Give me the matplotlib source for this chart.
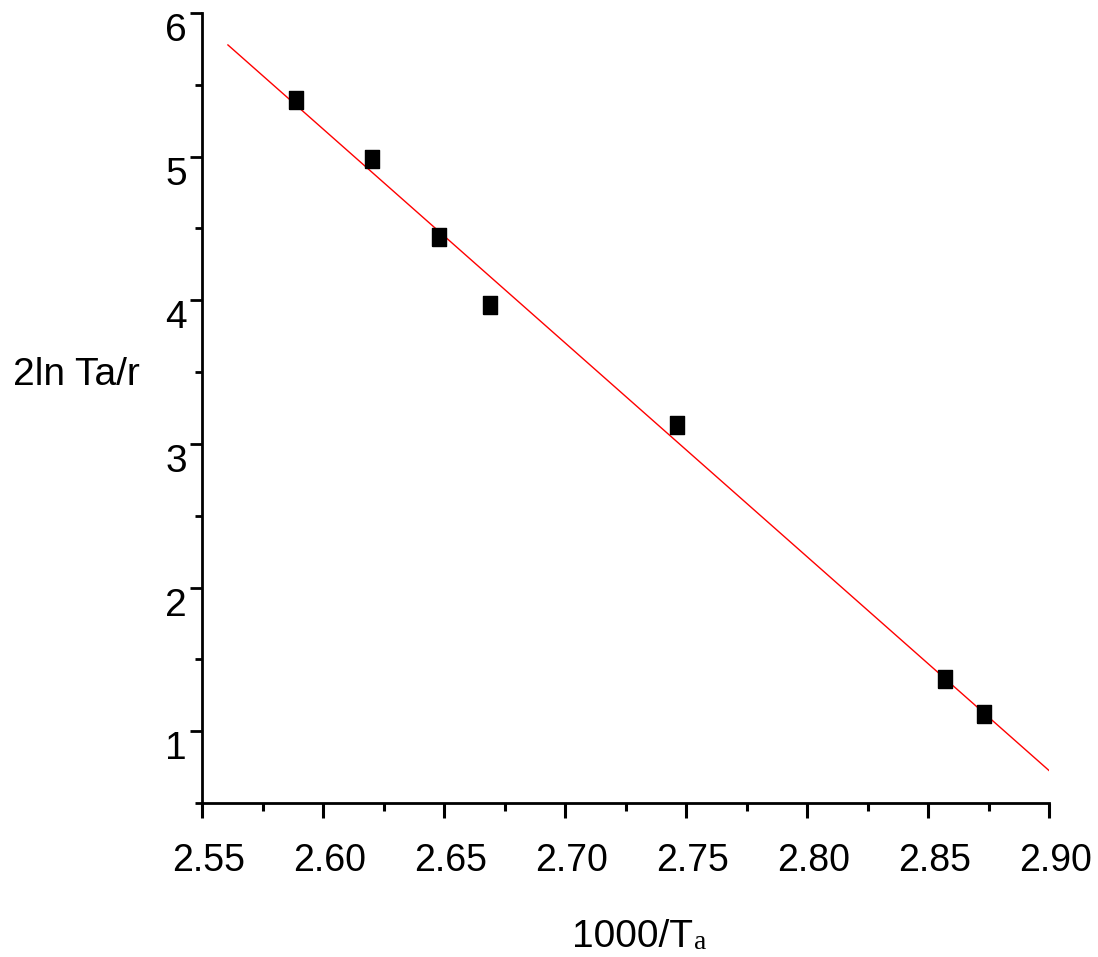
import numpy as np
import matplotlib.pyplot as plt
import matplotlib.transforms as mtrans
from matplotlib.ticker import MultipleLocator

# data
inv_T = [2.5888, 2.6201, 2.6481, 2.6690, 2.7463, 2.8572, 2.8731]
ln_val = [5.395, 4.986, 4.440, 3.967, 3.134, 1.360, 1.117]
fit_range = [2.5607, 2.90]
xticks = [2.55, 2.60, 2.65, 2.70, 2.75, 2.80, 2.85, 2.90]
xtick_labels = ['2.55', '2.60', '2.65', '2.70', '2.75', '2.80', '2.85', '2.90']

plt.rcParams['font.family'] = ['Liberation Sans', 'DejaVu Sans']

fig = plt.figure(figsize=(10.98, 9.57), dpi=100)
ax = fig.add_axes([0.184, 0.1609, 0.7714, 0.8255])

# least squares line through the points
k, b = np.polyfit(inv_T, ln_val, 1)
xf = np.array(fit_range)
ax.plot(xf, k * xf + b, color='red', lw=1.0, zorder=2)

# slightly tall square markers
rect = [(-0.8, -1), (0.8, -1), (0.8, 1), (-0.8, 1), (-0.8, -1)]
ax.plot(inv_T, ln_val, ls='none', marker=rect, markersize=13,
        color='black', zorder=3)

ax.set_xlim(2.55, 2.90)
ax.set_ylim(0.5, 6)
ax.set_xticks(xticks)
ax.set_xticklabels(xtick_labels)
ax.xaxis.set_minor_locator(MultipleLocator(0.025))
ax.yaxis.set_major_locator(MultipleLocator(1))
ax.yaxis.set_minor_locator(MultipleLocator(0.5))

ax.spines['top'].set_visible(False)
ax.spines['right'].set_visible(False)
ax.spines['left'].set_linewidth(2)
ax.spines['bottom'].set_linewidth(2)

ax.tick_params(axis='x', which='major', length=11, width=2.2, labelsize=27, pad=18)
ax.tick_params(axis='x', which='minor', length=6, width=2.2)
ax.tick_params(axis='y', which='major', length=9, width=2, labelsize=28, pad=2)
ax.tick_params(axis='y', which='minor', length=5, width=2)

# labels sit a bit right of / below their ticks in the original
shift = mtrans.ScaledTranslation(0.07, 0, fig.dpi_scale_trans)
for lab in ax.get_xticklabels():
    lab.set_transform(lab.get_transform() + shift)
for lab in ax.get_yticklabels():
    lab.set_verticalalignment('top')

# axis titles
fig.text(0.012, 0.608, '2ln Ta/r', fontsize=28, va='center', ha='left')
xl = fig.text(0.521, 0.002, '1000/T', fontsize=28, ha='left', va='bottom')
ax.annotate('a', xy=(1, 0), xycoords=xl, xytext=(1, 0), textcoords='offset points',
            fontsize=20, ha='left', va='bottom',
            family=['Liberation Serif', 'DejaVu Serif'])

fig.savefig('out.png', dpi=100, facecolor='white')
